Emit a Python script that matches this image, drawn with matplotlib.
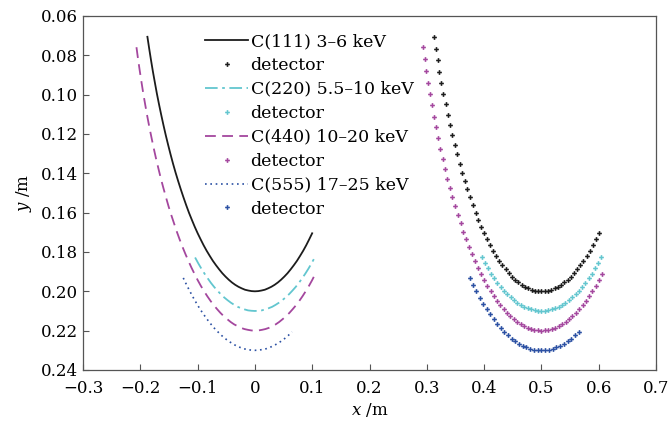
import matplotlib
matplotlib.use("Agg")
import matplotlib.pyplot as plt

# === DATA ===
# theory curves; the detector dots sit on the same y values, 0.5 m to the right
x111 = [-0.1876, -0.1845, -0.1813, -0.1780, -0.1745, -0.1710, -0.1673, -0.1635, -0.1596, -0.1556,
        -0.1514, -0.1472, -0.1429, -0.1385, -0.1339, -0.1293, -0.1246, -0.1198, -0.1150, -0.1100,
        -0.1050, -0.0999, -0.0947, -0.0895, -0.0842, -0.0788, -0.0734, -0.0680, -0.0625, -0.0569,
        -0.0514, -0.0457, -0.0401, -0.0344, -0.0287, -0.0230, -0.0173, -0.0115, -0.0058, 0.0,
        0.0058, 0.0115, 0.0173, 0.0230, 0.0287, 0.0344, 0.0401, 0.0457, 0.0514, 0.0569,
        0.0625, 0.0680, 0.0734, 0.0788, 0.0842, 0.0895, 0.0947, 0.0999]
y111 = [0.0706, 0.0766, 0.0825, 0.0883, 0.0940, 0.0996, 0.1050, 0.1103, 0.1155, 0.1206,
        0.1256, 0.1304, 0.1351, 0.1396, 0.1440, 0.1482, 0.1523, 0.1563, 0.1601, 0.1637,
        0.1672, 0.1705, 0.1736, 0.1766, 0.1794, 0.1820, 0.1845, 0.1867, 0.1888, 0.1908,
        0.1925, 0.1941, 0.1955, 0.1967, 0.1977, 0.1985, 0.1992, 0.1996, 0.1999, 0.2000,
        0.1999, 0.1996, 0.1992, 0.1985, 0.1977, 0.1967, 0.1955, 0.1941, 0.1925, 0.1908,
        0.1888, 0.1867, 0.1845, 0.1820, 0.1794, 0.1766, 0.1736, 0.1705]
xdet111 = [0.3124, 0.3155, 0.3187, 0.3220, 0.3255, 0.3290, 0.3327, 0.3365, 0.3404, 0.3444,
           0.3486, 0.3528, 0.3571, 0.3615, 0.3661, 0.3707, 0.3754, 0.3802, 0.3850, 0.3900,
           0.3950, 0.4001, 0.4053, 0.4105, 0.4158, 0.4212, 0.4266, 0.4320, 0.4375, 0.4431,
           0.4486, 0.4543, 0.4599, 0.4656, 0.4713, 0.4770, 0.4827, 0.4885, 0.4942, 0.5,
           0.5058, 0.5115, 0.5173, 0.5230, 0.5287, 0.5344, 0.5401, 0.5457, 0.5514, 0.5569,
           0.5625, 0.5680, 0.5734, 0.5788, 0.5842, 0.5895, 0.5947, 0.5999]

x220 = [-0.1044, -0.0990, -0.0936, -0.0880, -0.0824, -0.0768, -0.0711, -0.0653, -0.0595, -0.0537,
        -0.0478, -0.0419, -0.0360, -0.0300, -0.0240, -0.0181, -0.0120, -0.0060, 0.0,
        0.0060, 0.0120, 0.0181, 0.0240, 0.0300, 0.0360, 0.0419, 0.0478, 0.0537, 0.0595,
        0.0653, 0.0711, 0.0768, 0.0824, 0.0880, 0.0936, 0.0990, 0.1044]
y220 = [0.1828, 0.1857, 0.1884, 0.1910, 0.1934, 0.1957, 0.1978, 0.1997, 0.2015, 0.2031,
        0.2045, 0.2058, 0.2069, 0.2079, 0.2086, 0.2092, 0.2097, 0.2099, 0.2100,
        0.2099, 0.2097, 0.2092, 0.2086, 0.2079, 0.2069, 0.2058, 0.2045, 0.2031, 0.2015,
        0.1997, 0.1978, 0.1957, 0.1934, 0.1910, 0.1884, 0.1857, 0.1828]
xdet220 = [0.3956, 0.4010, 0.4064, 0.4120, 0.4176, 0.4232, 0.4289, 0.4347, 0.4405, 0.4463,
           0.4522, 0.4581, 0.4640, 0.4700, 0.4760, 0.4819, 0.4880, 0.4940, 0.5,
           0.5060, 0.5120, 0.5181, 0.5240, 0.5300, 0.5360, 0.5419, 0.5478, 0.5537, 0.5595,
           0.5653, 0.5711, 0.5768, 0.5824, 0.5880, 0.5936, 0.5990, 0.6044]

x440 = [-0.2067, -0.2039, -0.2009, -0.1978, -0.1946, -0.1912, -0.1877, -0.1841, -0.1803, -0.1764,
        -0.1724, -0.1683, -0.1641, -0.1597, -0.1552, -0.1507, -0.1460, -0.1412, -0.1364, -0.1314,
        -0.1264, -0.1212, -0.1160, -0.1107, -0.1053, -0.0999, -0.0944, -0.0888, -0.0831, -0.0774,
        -0.0717, -0.0659, -0.0601, -0.0542, -0.0482, -0.0423, -0.0363, -0.0303, -0.0243, -0.0182,
        -0.0121, -0.0061, 0.0,
        0.0061, 0.0121, 0.0182, 0.0243, 0.0303, 0.0363, 0.0423, 0.0482, 0.0542, 0.0601,
        0.0659, 0.0717, 0.0774, 0.0831, 0.0888, 0.0944, 0.0999, 0.1053]
y440 = [0.0759, 0.0820, 0.0880, 0.0939, 0.0998, 0.1055, 0.1112, 0.1167, 0.1221, 0.1275,
        0.1327, 0.1377, 0.1427, 0.1475, 0.1522, 0.1568, 0.1612, 0.1654, 0.1696, 0.1736,
        0.1774, 0.1811, 0.1846, 0.1880, 0.1912, 0.1943, 0.1972, 0.1999, 0.2025, 0.2049,
        0.2071, 0.2091, 0.2110, 0.2127, 0.2142, 0.2156, 0.2168, 0.2177, 0.2186, 0.2192,
        0.2196, 0.2199, 0.2200,
        0.2199, 0.2196, 0.2192, 0.2186, 0.2177, 0.2168, 0.2156, 0.2142, 0.2127, 0.2110,
        0.2091, 0.2071, 0.2049, 0.2025, 0.1999, 0.1972, 0.1943, 0.1912]
xdet440 = [0.2933, 0.2961, 0.2991, 0.3022, 0.3054, 0.3088, 0.3123, 0.3159, 0.3197, 0.3236,
           0.3276, 0.3317, 0.3359, 0.3403, 0.3448, 0.3493, 0.3540, 0.3588, 0.3636, 0.3686,
           0.3736, 0.3788, 0.3840, 0.3893, 0.3947, 0.4001, 0.4056, 0.4112, 0.4169, 0.4226,
           0.4283, 0.4341, 0.4399, 0.4458, 0.4518, 0.4577, 0.4637, 0.4697, 0.4757, 0.4818,
           0.4879, 0.4939, 0.5,
           0.5061, 0.5121, 0.5182, 0.5243, 0.5303, 0.5363, 0.5423, 0.5482, 0.5542, 0.5601,
           0.5659, 0.5717, 0.5774, 0.5831, 0.5888, 0.5944, 0.5999, 0.6053]

x555 = [-0.1250, -0.1193, -0.1135, -0.1076, -0.1017, -0.0957, -0.0896, -0.0835, -0.0773, -0.0710,
        -0.0647, -0.0584, -0.0520, -0.0456, -0.0391, -0.0326, -0.0261, -0.0196, -0.0131, -0.0066,
        0.0,
        0.0066, 0.0131, 0.0196, 0.0261, 0.0326, 0.0391, 0.0456, 0.0520, 0.0584, 0.0647]
y555 = [0.1932, 0.1967, 0.2000, 0.2032, 0.2062, 0.2091, 0.2117, 0.2142, 0.2165, 0.2187,
        0.2206, 0.2224, 0.2240, 0.2254, 0.2266, 0.2277, 0.2285, 0.2292, 0.2296, 0.2299,
        0.2300,
        0.2299, 0.2296, 0.2292, 0.2285, 0.2277, 0.2266, 0.2254, 0.2240, 0.2224, 0.2206]
xdet555 = [0.3750, 0.3807, 0.3865, 0.3924, 0.3983, 0.4043, 0.4104, 0.4165, 0.4227, 0.4290,
           0.4353, 0.4416, 0.4480, 0.4544, 0.4609, 0.4674, 0.4739, 0.4804, 0.4869, 0.4934,
           0.5,
           0.5066, 0.5131, 0.5196, 0.5261, 0.5326, 0.5391, 0.5456, 0.5520, 0.5584, 0.5647]

labels = ["C(111) 3\u20136 keV", "C(220) 5.5\u201310 keV", "C(440) 10\u201320 keV", "C(555) 17\u201325 keV"]
xticks = [-0.3, -0.2, -0.1, 0.0, 0.1, 0.2, 0.3, 0.4, 0.5, 0.6, 0.7]
xticklabels = ["\u22120.3", "\u22120.2", "\u22120.1", "0", "0.1", "0.2", "0.3", "0.4", "0.5", "0.6", "0.7"]
yticks = [0.06, 0.08, 0.10, 0.12, 0.14, 0.16, 0.18, 0.20, 0.22, 0.24]

# === STYLE ===
plt.rcParams['font.family'] = ['DejaVu Serif']
plt.rcParams['mathtext.fontset'] = 'dejavuserif'

C_BLACK = '#1c1c1c'
C_CYAN = '#62c6cf'
C_MAG = '#a4479e'
C_BLUE = '#2b50a3'
MS = 3.4

fig = plt.figure(figsize=(6.71, 4.24), dpi=100)
ax = fig.add_axes([0.1237, 0.1274, 0.854, 0.835])

ax.plot(x111, y111, '-', color=C_BLACK, lw=1.3, label=labels[0])
ax.plot(xdet111, y111, 'P', color=C_BLACK, ms=MS, mew=0, ls='none', label='detector')
ax.plot(x220, y220, '-.', color=C_CYAN, lw=1.3, dashes=(7, 2.5, 1.5, 2.5), label=labels[1])
ax.plot(xdet220, y220, 'P', color=C_CYAN, ms=MS, mew=0, ls='none', label='detector')
ax.plot(x440, y440, '--', color=C_MAG, lw=1.3, dashes=(6, 3.5), label=labels[2])
ax.plot(xdet440, y440, 'P', color=C_MAG, ms=MS, mew=0, ls='none', label='detector')
ax.plot(x555, y555, ':', color=C_BLUE, lw=1.2, dashes=(1, 2.2), label=labels[3])
ax.plot(xdet555, y555, 'P', color=C_BLUE, ms=MS, mew=0, ls='none', label='detector')

ax.set_xlim(-0.3, 0.7)
ax.set_ylim(0.24, 0.06)
ax.set_xticks(xticks)
ax.set_xticklabels(xticklabels)
ax.set_yticks(yticks)
ax.set_yticklabels([f"{v:.2f}" for v in yticks])
ax.tick_params(direction='in', length=4, width=0.8, color='#555555', labelsize=12,
               top=False, right=False)
ax.tick_params(axis='x', pad=7)
for s in ax.spines.values():
    s.set_color('#555555')
    s.set_linewidth(0.9)

ax.set_xlabel(r'$x$ /m', fontsize=12, labelpad=3)
ax.set_ylabel(r'$y$ /m', fontsize=12, labelpad=5)

leg = ax.legend(loc='upper left', bbox_to_anchor=(0.213, 0.952), frameon=False,
                fontsize=12.5, handlelength=2.5, handletextpad=0.12, borderpad=0,
                labelspacing=0.4, numpoints=1, borderaxespad=0)

fig.savefig('out.png', dpi=100)
